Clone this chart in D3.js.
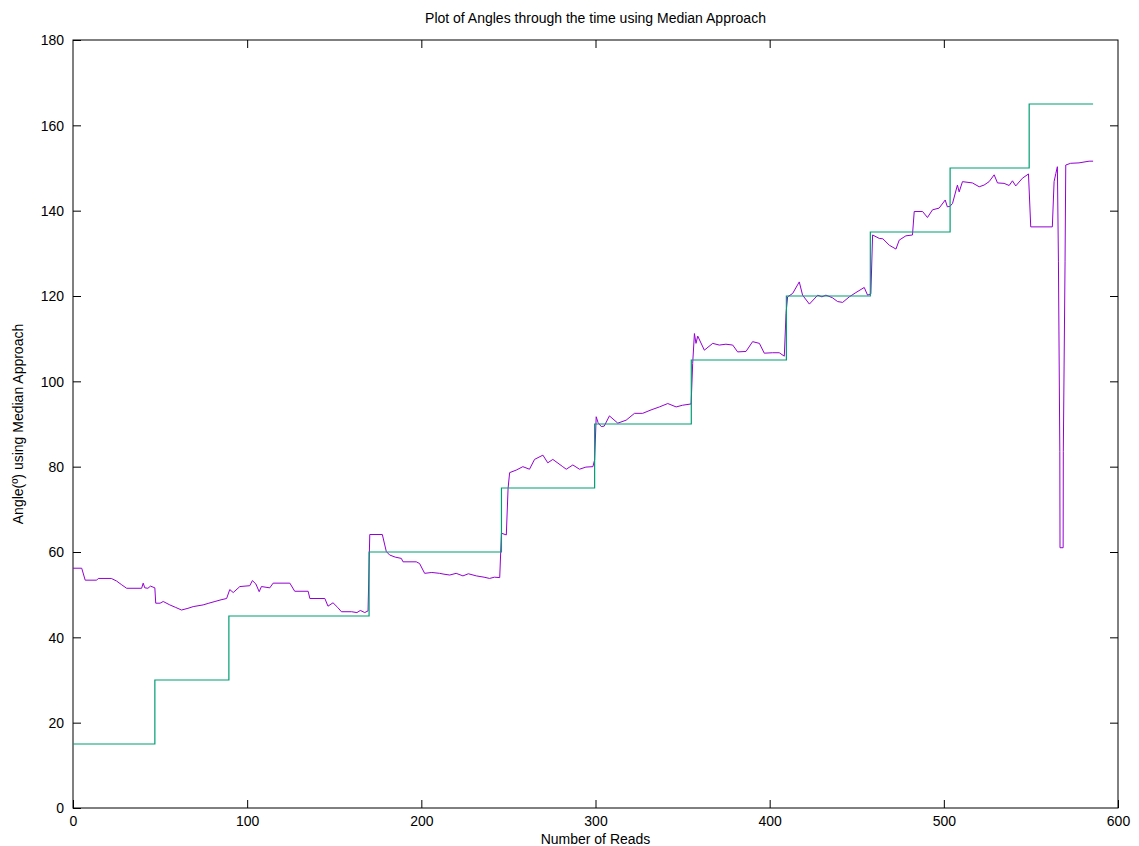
<!DOCTYPE html>
<html>
<head>
<meta charset="utf-8">
<script src="https://cdn.jsdelivr.net/npm/d3@7"></script>
<style>
  body { margin: 0; background: #fff; }
  svg { display: block; font-family: "Liberation Sans", Arial, sans-serif; }
  .axis path { display: none; }
  .axis line { stroke: #000; }
  .axis text { fill: #000; font-size: 14px; }
</style>
</head>
<body>
<div id="chart"></div>
<script>
// median approach angle readings (read index, angle in degrees)
const readIdx = [0, 5, 7, 13.6, 14.5, 22, 25, 28, 30.8, 39.4, 40.3, 41.2, 43, 44.5, 47, 47.5, 50, 51.8, 55.6, 59,
  62.3, 66, 69, 74.7, 78, 81.5, 85, 88.2, 90, 92, 95.8, 101.5, 103, 105, 106.9, 108.2, 113, 114.9, 124.5, 127.3,
  135, 136, 144.6, 146.4, 149.3, 152, 154.1, 160, 163, 165, 167.5, 169.4, 170.4, 177.6, 179.9, 181.8, 185, 188.5, 189.5, 197.1,
  199, 201.9, 206, 210.5, 213, 216.3, 220, 223.9, 227, 231.6, 236, 239.2, 242, 245, 246, 248.8, 249.8, 250.7, 254.5, 258.3,
  262.1, 265, 269.8, 272.6, 275.5, 281.2, 283.2, 287, 290.8, 294.5, 298.5, 299.5, 300.4, 301.5, 303.3, 305, 308, 312.8,
  317.6, 322.4, 327.1, 331.9, 336.7, 341.5, 346.3, 350, 354.9, 355.8, 356.8, 357.7, 358.7, 362.5, 367.3, 371.1, 374.9, 378.8,
  381.6, 386.4, 390.2, 394.1, 396.9, 401.7, 405.5, 408.4, 409.4, 410.3, 413.2, 416, 417, 418.9, 422.8, 427.6, 430, 432.3,
  436, 439, 441.9, 445.7, 449.5, 454.3, 456.2, 458.1, 459.1, 462.9, 465, 468.7, 472.5, 474.4, 478.2, 482, 483, 487.8,
  490.6, 493.5, 497.3, 500.8, 502, 503.5, 505, 507.8, 508.8, 510.7, 516.4, 520.3, 523.1, 526, 528.9, 530.8, 534.6, 537.5,
  539.4, 541.3, 545.1, 548.6, 549.9, 562.3, 563.3, 564.3, 565.2, 565.8, 566.6, 566.7, 568.5, 568.6, 569.6, 570, 572.8, 577.6,
  583.4, 585.7];
const angle = [56.2, 56.2, 53.4, 53.4, 53.8, 53.8, 53.2, 52.3, 51.5, 51.5, 52.7, 51.6, 51.5, 52, 51.6, 48, 48, 48.4, 47.6, 47,
  46.4, 46.8, 47.2, 47.6, 48, 48.4, 48.8, 49.1, 51.2, 50.5, 51.9, 52.1, 53.3, 52.5, 50.7, 51.9, 51.6, 52.7, 52.7, 50.8,
  50.8, 49.1, 49.1, 47.3, 48.1, 47, 46, 46, 45.8, 46.3, 45.8, 46.2, 64.1, 64.1, 60.1, 59.3, 58.8, 58.5, 57.7, 57.7,
  57.3, 55, 55.2, 55, 54.8, 54.6, 55, 54.4, 54.9, 54.4, 54.1, 53.8, 54.1, 54, 64.4, 64, 74.9, 78.6, 79.2, 80,
  79.4, 81.7, 82.7, 80.9, 81.7, 80, 79.4, 80.4, 79.4, 79.9, 80, 81.6, 91.7, 90.3, 89.4, 89.5, 91.9, 90.2,
  90.9, 92.5, 92.5, 93.3, 94, 94.8, 94, 94.4, 94.7, 104.2, 111.2, 108.9, 110.6, 107.3, 108.9, 108.5, 108.7, 108.5,
  106.9, 107, 109.3, 108.9, 106.6, 106.7, 106.7, 105.9, 115.9, 119.8, 120.6, 122.6, 123.3, 120.2, 118.1, 120.2, 119.8, 120.2,
  119.6, 118.7, 118.5, 119.8, 120.8, 122, 120.2, 120.5, 134.3, 133.5, 133.4, 131.9, 131, 133.1, 134.1, 134.3, 139.8, 139.8,
  138.4, 140.2, 140.6, 142.5, 140.9, 141, 141.7, 146, 144.4, 146.8, 146.5, 145.6, 146, 146.8, 148.4, 146.5, 146.4, 145.9,
  147, 145.8, 147.6, 148.6, 136.2, 136.2, 146.8, 148.7, 150.3, 128, 83.5, 61, 61, 83.5, 128, 150.7, 151.1, 151.2,
  151.6, 151.6];

// reference angle steps
const stepStart = [0, 47, 89.5, 170, 246, 299.5, 355, 409.6, 457.8, 503.6, 549];
const stepAngle = [15, 30, 45, 60, 75, 90, 105, 120, 135, 150, 165];
const lastRead = 585.7;

const xTicks = [0, 100, 200, 300, 400, 500, 600];
const yTicks = [0, 20, 40, 60, 80, 100, 120, 140, 160, 180];

const width = 1139, height = 846;
const margin = { top: 40, right: 21, bottom: 38, left: 73 };
const innerW = width - margin.left - margin.right;
const innerH = height - margin.top - margin.bottom;

const svg = d3.select("#chart").append("svg")
    .attr("width", width)
    .attr("height", height);

const g = svg.append("g")
    .attr("transform", `translate(${margin.left},${margin.top})`);

const x = d3.scaleLinear().domain([0, 600]).range([0, innerW]);
const y = d3.scaleLinear().domain([0, 180]).range([innerH, 0]);

// axes with inward ticks, mirrored on top and right
g.append("g").attr("class", "axis")
    .attr("transform", `translate(0,${innerH})`)
    .call(d3.axisBottom(x).tickValues(xTicks).tickSize(-8).tickPadding(7).tickFormat(d3.format("d")));
g.append("g").attr("class", "axis")
    .call(d3.axisTop(x).tickValues(xTicks.slice(1, -1)).tickSize(-8).tickFormat(""));
g.append("g").attr("class", "axis")
    .call(d3.axisLeft(y).tickValues(yTicks).tickSize(-8).tickPadding(9).tickFormat(d3.format("d")));
g.append("g").attr("class", "axis")
    .attr("transform", `translate(${innerW},0)`)
    .call(d3.axisRight(y).tickValues(yTicks.slice(1, -1)).tickSize(-8).tickFormat(""));

g.selectAll(".axis .tick text").attr("dy", null);
g.selectAll(".axis .tick text")
    .filter(function () { return this.parentNode.parentNode.getAttribute("transform") === `translate(0,${innerH})`; })
    .attr("dy", "0.75em");
g.selectAll(".axis .tick text")
    .filter(function () { return !this.parentNode.parentNode.getAttribute("transform"); })
    .attr("dy", "0.35em");

g.append("rect")
    .attr("width", innerW)
    .attr("height", innerH)
    .attr("fill", "none")
    .attr("stroke", "#000");

const steps = stepStart.map((s, i) => [s, stepAngle[i]]);
steps.push([lastRead, stepAngle[stepAngle.length - 1]]);

const stepLine = d3.line()
    .x(d => x(d[0]))
    .y(d => y(d[1]))
    .curve(d3.curveStepAfter);

const line = d3.line()
    .x(d => x(d[0]))
    .y(d => y(d[1]));

g.append("path")
    .datum(readIdx.map((r, i) => [r, angle[i]]))
    .attr("fill", "none")
    .attr("stroke", "#9400d3")
    .attr("stroke-width", 1)
    .attr("d", line);

g.append("path")
    .datum(steps)
    .attr("fill", "none")
    .attr("stroke", "#009e73")
    .attr("stroke-width", 1.2)
    .attr("d", stepLine);

svg.append("text")
    .attr("x", margin.left + innerW / 2)
    .attr("y", 23)
    .attr("text-anchor", "middle")
    .style("font-size", "14px")
    .text("Plot of Angles through the time using Median Approach");

svg.append("text")
    .attr("x", margin.left + innerW / 2)
    .attr("y", 844)
    .attr("text-anchor", "middle")
    .style("font-size", "14px")
    .text("Number of Reads");

svg.append("text")
    .attr("transform", `translate(23,${margin.top + innerH / 2}) rotate(-90)`)
    .attr("text-anchor", "middle")
    .style("font-size", "14px")
    .text("Angle(º) using Median Approach");
</script>
</body>
</html>
